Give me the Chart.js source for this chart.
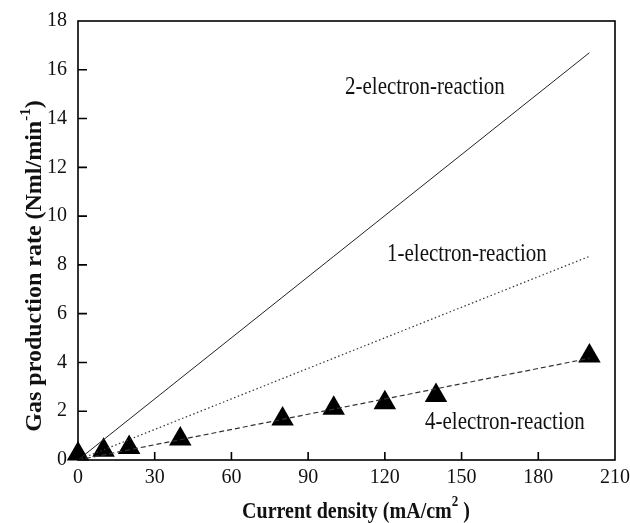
<!DOCTYPE html>
<html>
<head>
<meta charset="utf-8">
<script src="https://cdn.jsdelivr.net/npm/chart.js@4"></script>
<style>
  html, body { margin: 0; padding: 0; background: #fff; }
  #wrap { width: 630px; height: 523px; }
</style>
</head>
<body>
<div id="wrap"><canvas id="gasChart"></canvas></div>
<script>
// measured points (4-electron)
const currentDensity = [0, 10, 20, 40, 80, 100, 120, 140, 200];
const gasRate = [0.25, 0.4, 0.51, 0.86, 1.68, 2.12, 2.35, 2.64, 4.26];

// theoretical lines, endpoints only
const lineX = [0, 200];
const twoElectron = [0, 16.7];
const oneElectron = [0, 8.35];
const fourElectron = [0, 4.17];

const xTicks = [0, 30, 60, 90, 120, 150, 180, 210];
const yTicks = [0, 2, 4, 6, 8, 10, 12, 14, 16, 18];

const serif = '"Liberation Serif", "Times New Roman", serif';

function pts(xs, ys) {
    return xs.map((x, i) => ({ x: x, y: ys[i] }));
}

// text that is a bit taller than wide, like the scanned figure
function tallText(ctx, text, x, y, font, sy) {
    ctx.save();
    ctx.translate(x, y);
    ctx.scale(1, sy);
    ctx.font = font;
    ctx.fillText(text, 0, 0);
    ctx.restore();
}

// frame, inward ticks, axis titles and line labels
const decorations = {
    id: 'decorations',
    afterDraw(chart) {
        const ctx = chart.ctx;
        const a = chart.chartArea;
        const xs = chart.scales.x, ys = chart.scales.y;
        ctx.save();
        ctx.strokeStyle = '#000';
        ctx.lineWidth = 1.6;
        ctx.strokeRect(a.left, a.top, a.right - a.left, a.bottom - a.top);

        ctx.beginPath();
        xTicks.forEach(v => {
            if (v === 0 || v === 210) return;
            const px = xs.getPixelForValue(v);
            ctx.moveTo(px, a.bottom);
            ctx.lineTo(px, a.bottom - 8);
        });
        yTicks.forEach(v => {
            if (v === 0 || v === 18) return;
            const py = ys.getPixelForValue(v);
            ctx.moveTo(a.left, py);
            ctx.lineTo(a.left + 9, py);
        });
        ctx.stroke();

        ctx.fillStyle = '#111';
        ctx.textBaseline = 'middle';
        ctx.textAlign = 'left';
        const lf = '21px ' + serif;
        tallText(ctx, '2-electron-reaction', 345, 88, lf, 1.15);
        tallText(ctx, '1-electron-reaction', 387, 255, lf, 1.15);
        tallText(ctx, '4-electron-reaction', 425, 423, lf, 1.15);

        // x axis title with superscript
        const big = 'bold 20px ' + serif, small = 'bold 13px ' + serif;
        const xa = 'Current density (mA/cm', xb = ' )';
        ctx.font = big;
        const wA = ctx.measureText(xa).width, wB = ctx.measureText(xb).width;
        ctx.font = small;
        const wS = ctx.measureText('2').width;
        const x0 = 356 - (wA + wS + wB) / 2;
        const ty = 512;
        tallText(ctx, xa, x0, ty, big, 1.2);
        tallText(ctx, '2', x0 + wA, ty - 10, small, 1.2);
        tallText(ctx, xb, x0 + wA + wS, ty, big, 1.2);

        // y axis title, rotated
        ctx.translate(35, 266);
        ctx.rotate(-Math.PI / 2);
        const yBig = 'bold 24px ' + serif, ySmall = 'bold 15px ' + serif;
        const ya = 'Gas production rate (Nml/min', yb = ')';
        ctx.font = yBig;
        const wYa = ctx.measureText(ya).width, wYb = ctx.measureText(yb).width;
        ctx.font = ySmall;
        const wYs = ctx.measureText('-1').width;
        const y0 = -(wYa + wYs + wYb) / 2;
        ctx.font = yBig;
        ctx.fillText(ya, y0, 0);
        ctx.font = ySmall;
        ctx.fillText('-1', y0 + wYa, -9);
        ctx.font = yBig;
        ctx.fillText(yb, y0 + wYa + wYs, 0);
        ctx.restore();
    }
};

new Chart(document.getElementById('gasChart'), {
    type: 'scatter',
    data: {
        datasets: [
            {
                label: '2-electron-reaction',
                data: pts(lineX, twoElectron),
                showLine: true,
                borderColor: '#222',
                borderWidth: 1,
                pointRadius: 0
            },
            {
                label: '1-electron-reaction',
                data: pts(lineX, oneElectron),
                showLine: true,
                borderColor: '#333',
                borderWidth: 1.2,
                borderDash: [1.5, 2.5],
                pointRadius: 0
            },
            {
                label: '4-electron-reaction fit',
                data: pts(lineX, fourElectron),
                showLine: true,
                borderColor: '#333',
                borderWidth: 1.2,
                borderDash: [5, 3],
                pointRadius: 0
            },
            {
                label: 'measured',
                data: pts(currentDensity, gasRate),
                pointStyle: 'triangle',
                pointRadius: 13,
                pointBackgroundColor: '#000',
                pointBorderColor: '#000',
                pointBorderWidth: 0,
                clip: false
            }
        ]
    },
    options: {
        responsive: true,
        maintainAspectRatio: false,
        animation: false,
        events: [],
        layout: { padding: { left: 0, right: 15, top: 21, bottom: 0 } },
        plugins: {
            legend: { display: false },
            tooltip: { enabled: false }
        },
        scales: {
            x: {
                type: 'linear',
                min: 0,
                max: 210,
                afterFit(scale) {
                    scale.height = 63;
                    scale.paddingLeft = 0;
                    scale.paddingRight = 0;
                },
                afterBuildTicks(scale) { scale.ticks = xTicks.map(v => ({ value: v })); },
                grid: { display: false, drawTicks: false },
                border: { display: false },
                ticks: {
                    padding: 6,
                    color: '#111',
                    font: { family: serif, size: 20 },
                    maxRotation: 0
                }
            },
            y: {
                type: 'linear',
                min: 0,
                max: 18,
                afterFit(scale) {
                    scale.width = 78;
                    scale.paddingTop = 0;
                    scale.paddingBottom = 0;
                },
                afterBuildTicks(scale) { scale.ticks = yTicks.map(v => ({ value: v })); },
                grid: { display: false, drawTicks: false },
                border: { display: false },
                ticks: {
                    padding: 11,
                    color: '#111',
                    font: { family: serif, size: 20 }
                }
            }
        }
    },
    plugins: [decorations]
});
</script>
</body>
</html>
